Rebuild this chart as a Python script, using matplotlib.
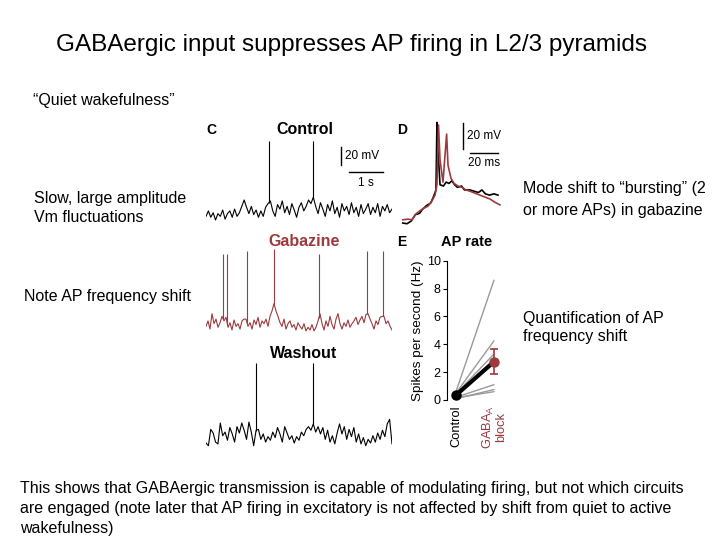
import numpy as np
import matplotlib
matplotlib.use('Agg')
import matplotlib.pyplot as plt

plt.rcParams['font.family'] = ['Liberation Sans', 'DejaVu Sans']

RED = '#9c3a3d'
GREY = '#9a9a9a'

# subthreshold membrane potential (mV), sampled evenly over the recording
control_vm = [-72, -66, -73, -68, -76, -69, -72, -65, -75, -69, -66, -73, -64, -72, -68, -61, -54, -62, -69, -61,
              -70, -65, -73, -66, -72, -62, -58,
              -55, -66, -72, -59, -64, -55, -68, -61, -70, -58, -65, -73, -62, -57, -66, -61, -54, -58,
              -51, -61, -69, -57, -64, -72, -59, -66, -55, -69, -62, -73, -58, -66, -61, -70, -57, -68, -62, -72,
              -59, -69, -64, -58, -70, -62, -68, -58, -72, -61, -66, -59, -68, -64]
gabazine_vm = [-72, -66, -75, -58, -69, -64, -73, -68, -61, -66,
               -62, -73, -68, -76, -65, -72, -69, -75, -66, -64,
               -64, -72, -68, -75, -65, -70, -62, -73, -66, -69, -64, -72, -61, -55,
               -47, -55, -61, -68, -72, -64, -75, -69, -66, -73, -70, -76, -68, -72, -75, -69, -77, -73, -76, -70,
               -77, -73, -66,
               -58, -69, -76, -66, -72, -61, -70, -75, -64, -58, -69, -75, -68, -72, -65, -73, -69, -66, -62, -70,
               -65, -61, -68, -59, -58,
               -64, -69, -75, -66, -70, -62, -61,
               -61, -69, -66, -72, -76]
washout_vm = [-76, -79, -61, -65, -75, -77, -54, -68, -64, -73, -59, -66, -75, -58, -65, -54, -62, -72, -53, -64,
              -79, -62,
              -61, -72, -66, -75, -69, -73, -64, -70, -59, -66, -75, -58, -65, -72, -68, -76, -69, -73, -64, -68,
              -61, -58, -62,
              -55, -64, -58, -66, -59, -72, -62, -75, -68, -77, -65, -55, -66, -58, -72, -61, -69, -59, -75, -66,
              -77, -70, -79, -72, -76, -68, -75, -65, -72, -62, -69, -55, -50, -77]
# action potentials: time (s) and peak (mV)
control_ap_t = [1.85, 3.15]
control_ap_v = [11, 11]
gabazine_ap_t = [0.50, 0.62, 1.21, 2.0, 3.32, 4.74, 5.21]
gabazine_ap_v = [8, 8, 11, 13, 8, 11, 11]
washout_ap_t = [1.47, 3.15]
washout_ap_v = [12, 12]
trace_dur = 5.47  # s

# panel D: first AP, control vs gabazine
d_black_t = [2, 5, 8, 11, 14, 16, 19, 22, 24, 25.7, 26.4, 27.1, 28.6, 31, 33, 35, 37, 39, 41, 44, 46, 50, 53, 56,
             58.5, 61, 64, 67, 70]
d_black_v = [-73.5, -74, -72, -67, -66, -63, -60, -58, -53, -48, 4, -17, -44, -45, -42, -43, -41, -44, -46, -45,
             -48, -48, -49, -50, -48, -51, -52, -51, -52]
d_red_t = [2, 5.7, 8.6, 11.4, 14.3, 17.1, 20, 22.8, 25, 26.4, 27.5, 28.6, 30.7, 33.3, 34.3, 36.4, 38.6, 41.4,
           44.3, 47.1, 50, 53.6, 57.1, 60.7, 64.3, 67.8, 71.4]
d_red_v = [-71, -70.5, -71, -66.5, -64, -62, -60.5, -56.5, -52, -44, 2, -25, -42, -5, -29, -39, -43, -45, -46,
           -48, -49, -50.5, -52, -53.5, -55, -57.5, -59.5]

# panel E: AP rate per cell
cells_ctrl = [0.6, 0.5, 0.45, 0.35, 0.2, 0.1, 0.15]
cells_gaba = [8.6, 4.25, 3.3, 2.9, 1.1, 0.75, 0.6]
mean_ctrl, mean_gaba, sem_gaba = 0.35, 2.75, 0.9
cat_labels = ['Control', 'GABA$_\\mathregular{A}$\nblock']

W, H = 728, 546
fig = plt.figure(figsize=(W / 100, H / 100), dpi=100)


def px_axes(x0, y0, x1, y1):
    # axes from pixel box (top-left origin)
    return fig.add_axes([x0 / W, 1 - y1 / H, (x1 - x0) / W, (y1 - y0) / H])


bg = px_axes(0, 0, W, H)
bg.set_xlim(0, W)
bg.set_ylim(H, 0)
bg.axis('off')

fs = 11.5
bg.text(351, 45, 'GABAergic input suppresses AP firing in L2/3 pyramids', fontsize=17.5, ha='center', va='center')
bg.text(33, 100, '\u201cQuiet wakefulness\u201d', fontsize=fs, va='center')
bg.text(34, 198, 'Slow, large amplitude', fontsize=fs, va='center')
bg.text(34, 217, 'Vm fluctuations', fontsize=fs, va='center')
bg.text(24, 297, 'Note AP frequency shift', fontsize=fs, va='center')
bg.text(523, 189, 'Mode shift to \u201cbursting\u201d (2', fontsize=fs, va='center')
bg.text(523, 210, 'or more APs) in gabazine', fontsize=fs, va='center')
bg.text(523, 318, 'Quantification of AP', fontsize=fs, va='center')
bg.text(523, 337, 'frequency shift', fontsize=fs, va='center')
bg.text(20, 488, 'This shows that GABAergic transmission is capable of modulating firing, but not which circuits',
        fontsize=fs, va='center')
bg.text(20, 508, 'are engaged (note later that AP firing in excitatory is not affected by shift from quiet to active',
        fontsize=fs, va='center')
bg.text(20, 528, 'wakefulness)', fontsize=fs, va='center')

bg.text(206, 130, 'C', fontsize=10, fontweight='bold', va='center')
bg.text(305, 130, 'Control', fontsize=11.5, fontweight='bold', ha='center', va='center')
bg.text(397, 130, 'D', fontsize=10, fontweight='bold', va='center')
bg.text(304, 242, 'Gabazine', fontsize=11.5, fontweight='bold', ha='center', va='center', color=RED)
bg.text(304, 353, 'Washout', fontsize=11.5, fontweight='bold', ha='center', va='center')
bg.text(397, 242, 'E', fontsize=10, fontweight='bold', va='center')
bg.text(467, 242, 'AP rate', fontsize=10.5, fontweight='bold', ha='center', va='center')

# panel C traces
panels = [(control_vm, control_ap_t, control_ap_v, (206, 130, 392, 225), (-81.5, 23), 'black'),
          (gabazine_vm, gabazine_ap_t, gabazine_ap_v, (206, 240, 392, 335), (-81.5, 23), RED),
          (washout_vm, washout_ap_t, washout_ap_v, (206, 345, 392, 450), (-83.7, 31.8), 'black')]
for vm, ap_t, ap_v, box, ylim, col in panels:
    ax = px_axes(*box)
    t = np.linspace(0, trace_dur, len(vm))
    ax.plot(t, vm, color=col, lw=0.8)
    ax.vlines(ap_t, np.interp(ap_t, t, vm), ap_v, color=col, lw=0.8)
    ax.set_xlim(0, trace_dur)
    ax.set_ylim(*ylim)
    ax.axis('off')
    if vm is control_vm:
        ax.plot([3.97, 3.97], [-15.5, 4.5], color='black', lw=1)
        ax.plot([4.2, 5.2], [-23.2, -23.2], color='black', lw=1)
        ax.text(4.08, -5.5, '20 mV', fontsize=8.5, va='center')
        ax.text(4.7, -35, '1 s', fontsize=8.5, ha='center', va='center')

# panel D
axd = px_axes(400, 115, 505, 230)
axd.plot(d_black_t, d_black_v, color='black', lw=1.2)
axd.plot(d_red_t, d_red_v, color=RED, lw=1.2)
axd.plot([45, 45], [-16.5, 3.5], color='black', lw=1)
axd.plot([50, 70], [-19.6, -19.6], color='black', lw=1)
axd.text(48, -6.5, '20 mV', fontsize=8.5, va='center')
axd.text(60, -27.5, '20 ms', fontsize=8.5, ha='center', va='center')
axd.set_xlim(0, 75)
axd.set_ylim(-78.85, 9.7)
axd.axis('off')

# panel E
axe = px_axes(447, 260.7, 505, 400)
for c, g in zip(cells_ctrl, cells_gaba):
    axe.plot([0, 1], [c, g], color=GREY, lw=1, solid_capstyle='round')
axe.plot([0, 1], [mean_ctrl, mean_gaba], color='black', lw=3, solid_capstyle='round')
axe.plot(0, mean_ctrl, 'o', color='black', ms=6.5)
axe.errorbar(1, mean_gaba, yerr=sem_gaba, fmt='o', color=RED, ms=6.5, capsize=3, elinewidth=1.2, capthick=1.2)
axe.set_xlim(-0.237, 1.29)
axe.set_ylim(0, 10)
axe.set_yticks([0, 2, 4, 6, 8, 10])
axe.tick_params(axis='y', labelsize=9, length=3, pad=1.5)
axe.set_xticks([0, 1])
axe.set_xticklabels(cat_labels, rotation=90, fontsize=9.3, va='top', ha='center', linespacing=1.0)
axe.get_xticklabels()[1].set_color(RED)
axe.tick_params(axis='x', length=0, pad=4)
axe.set_ylabel('Spikes per second (Hz)', fontsize=9.7, labelpad=2)
for s in ['top', 'right', 'bottom']:
    axe.spines[s].set_visible(False)
axe.patch.set_alpha(0)
for ln in axe.lines:
    ln.set_clip_on(False)

fig.savefig('out.png', dpi=100)
